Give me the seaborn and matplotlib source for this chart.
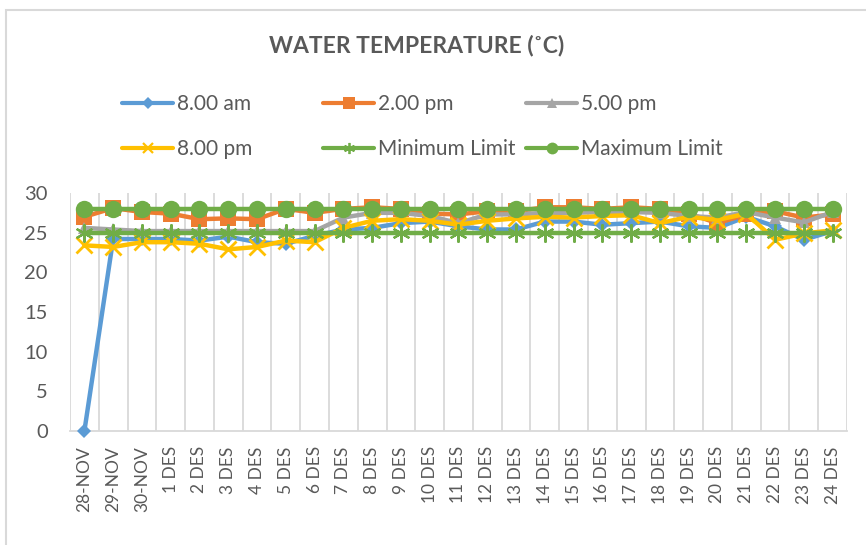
import matplotlib
matplotlib.use("Agg")
import matplotlib.pyplot as plt
from matplotlib.lines import Line2D
from matplotlib.patches import Rectangle
import seaborn as sns
import numpy as np
import pandas as pd

# ---------------- data ----------------
categories = ["28-NOV", "29-NOV", "30-NOV"] + [f"{d} DES" for d in range(1, 25)]
am8 = [0, 24.2, 24.2, 24.2, 24.0, 24.5, 23.8, 23.6, 24.6, 25.4, 25.6, 26.2, 26.4, 25.8,
       25.4, 25.4, 26.4, 26.4, 26.0, 26.2, 26.4, 25.8, 25.6, 27.0, 25.8, 24.1, 25.2]
pm2 = [27.0, 28.1, 27.6, 27.4, 26.7, 26.8, 26.7, 28.0, 27.5, 28.0, 28.2, 28.0, 27.4, 27.3,
       27.7, 27.7, 28.2, 28.2, 28.0, 28.2, 28.0, 27.4, 26.2, 27.3, 27.7, 26.9, 27.3]
pm5 = [25.6, 25.4, 25.2, 25.2, 25.2, 25.2, 25.2, 25.2, 25.2, 26.9, 27.5, 27.5, 27.1, 26.2,
       27.3, 27.3, 27.5, 27.5, 27.6, 27.6, 27.5, 27.1, 26.9, 27.6, 26.9, 26.3, 27.6]
pm8 = [23.4, 23.2, 23.8, 23.8, 23.6, 22.9, 23.2, 24.0, 23.8, 25.6, 26.5, 26.7, 26.5, 26.0,
       26.5, 26.8, 27.0, 26.9, 27.1, 27.2, 26.2, 27.0, 26.6, 27.4, 24.1, 24.9, 25.3]
min_limit = [25] * len(categories)
max_limit = [28] * len(categories)
series_names = ["8.00 am", "2.00 pm", "5.00 pm", "8.00 pm", "Minimum Limit", "Maximum Limit"]
series_values = [am8, pm2, pm5, pm8, min_limit, max_limit]
y_ticks = [0, 5, 10, 15, 20, 25, 30]
title = "WATER TEMPERATURE (˚C)"

# ---------------- style ----------------
sns.set_theme(style="white")
plt.rcParams["font.family"] = ["Lato", "DejaVu Sans"]
TXT = "#595959"
GRID = "#D9D9D9"

colors = ["#5B9BD5", "#ED7D31", "#A5A5A5", "#FFC000", "#70AD47", "#70AD47"]
markers = ["D", "s", "^", "x", (6, 2, 0), "o"]
msizes = [7.5, 11.5, 9, 11, 13, 12.5]
mews = [0, 0, 0, 2.0, 1.6, 0]
legend_ms = [6.5, 9, 7, 7.5, 8, 8.5]

W, H = 866, 545
fig = plt.figure(figsize=(W / 100, H / 100), dpi=100)
ax = fig.add_axes([70 / W, (H - 431) / H, (847 - 70) / W, (431 - 193) / H])

x = np.arange(len(categories))
for i, (name, vals) in enumerate(zip(series_names, series_values)):
    df = pd.DataFrame({"x": x, "y": vals})
    sns.lineplot(data=df, x="x", y="y", ax=ax, color=colors[i], linewidth=3.2,
                 marker=markers[i], markersize=msizes[i],
                 markeredgewidth=mews[i],
                 markeredgecolor=colors[i],
                 markerfacecolor=colors[i],
                 zorder=3 + i, clip_on=False, legend=False, sort=False)

ax.set_xlim(-0.5, len(categories) - 0.5)
ax.set_ylim(0, 30)
ax.set_yticks(y_ticks)
ax.set_yticklabels([str(t) for t in y_ticks], fontsize=14.5, color=TXT)
ax.set_xticks(x)
ax.set_xticklabels(categories, rotation=90, fontsize=12.5, color=TXT)
ax.set_xticks(np.arange(-0.5, len(categories), 1.0), minor=True)
ax.tick_params(axis="x", which="major", length=0, pad=11)
ax.tick_params(axis="x", which="minor", length=0)
ax.tick_params(axis="y", length=0, pad=16)
ax.grid(False)
ax.grid(True, axis="x", which="minor", color=GRID, linewidth=1.3)
ax.set_xlabel("")
ax.set_ylabel("")
for s in ["top", "right", "left"]:
    ax.spines[s].set_visible(False)
ax.spines["bottom"].set_color(GRID)
ax.spines["bottom"].set_linewidth(1.3)

# title
fig.text(417 / W, 1 - 46 / H, title, ha="center", va="center", fontsize=16.5,
         fontweight="bold", color=TXT)

# legends: three columns, two rows (row-major like the reference)
handles = [Line2D([0], [0], color=colors[i], lw=3, marker=markers[i], markersize=legend_ms[i],
                  markeredgewidth=(mews[i] * 0.8 if mews[i] else 0),
                  markerfacecolor=colors[i], markeredgecolor=colors[i])
           for i in range(6)]
col_x = [122, 323, 526]
for c in range(3):
    idx = [c, c + 3]
    fig.legend([handles[j] for j in idx], [series_names[j] for j in idx],
               loc="center left", bbox_to_anchor=(col_x[c] / W, 1 - 126.5 / H),
               frameon=False, fontsize=15, labelcolor=TXT, handlelength=2.45,
               handletextpad=0.2, labelspacing=1.2, borderpad=0, borderaxespad=0)

# outer chart border
fig.add_artist(Rectangle((6 / W, -0.2), 1.5, 1.2 - 10 / H, transform=fig.transFigure,
                         fill=False, edgecolor=GRID, linewidth=1.5))

fig.savefig("out.png", dpi=100, facecolor="white")
